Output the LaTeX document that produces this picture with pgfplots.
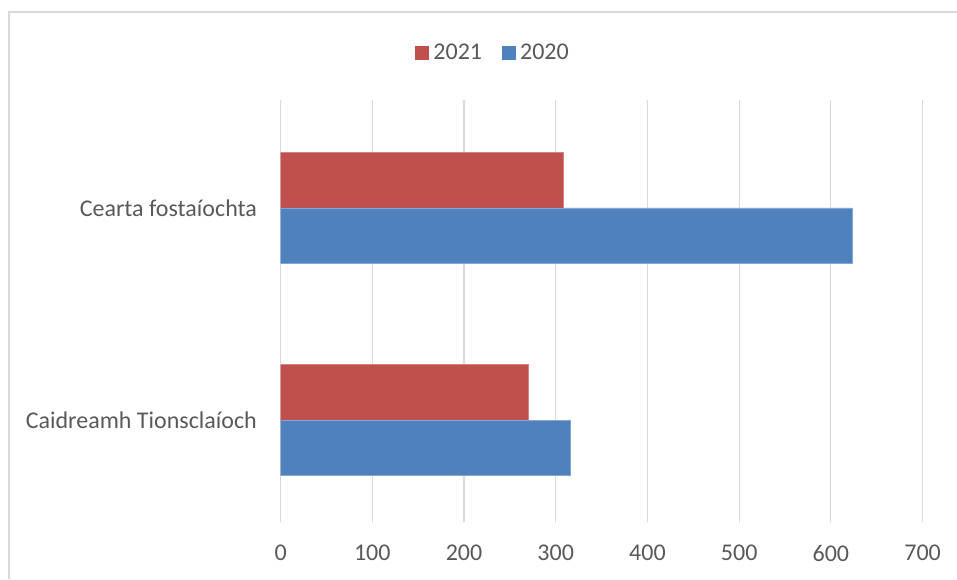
\documentclass[border=0pt]{standalone}
\usepackage{pgfplots}
\usepackage{fontspec}
\setmainfont{Carlito}
\pgfplotsset{compat=1.18}
\definecolor{red21}{HTML}{C0504D}
\definecolor{blue20}{HTML}{4F81BD}
\definecolor{txt}{HTML}{595959}
\definecolor{gridc}{HTML}{D9D9D9}

\begin{document}
\fontsize{24}{28}\selectfont
\begin{tikzpicture}[x=1pt,y=1pt]
	\useasboundingbox (0,0) rectangle (957,579);
	% chart frame (cropped at right and bottom)
	\draw[gridc, line width=1.5pt] (9.2,0) -- (9.2,567.2) -- (957,567.2);
	\begin{axis}[
			at={(280.6pt,57pt)}, anchor=south west,
			scale only axis,
			width=642pt, height=422pt,
			xbar,
			xmin=0, xmax=700,
			ymin=-0.481, ymax=1.509,
			xtick={0,100,...,700},
			ytick={0,1},
			yticklabels={Caidreamh Tionsclaíoch, Cearta fostaíochta},
			major tick length=0pt,
			axis line style={draw=none},
			xmajorgrids=true,
			grid style={gridc, line width=1.1pt},
			/pgf/number format/assume math mode=true,
			tick label style={font=\fontsize{24}{28}\selectfont, text=txt},
			xticklabel style={anchor=center, yshift=-31pt},
			yticklabel style={anchor=east, inner sep=0pt, xshift=-23.5pt},
			bar width=55.5pt,
			legend columns=2,
			legend style={draw=none, at={(0.331,1.111)}, anchor=center,
				font=\fontsize{24}{28}\selectfont, text=txt,
				/tikz/every even column/.append style={column sep=18pt}},
			legend image code/.code={\fill[#1, draw=none] (0pt,-6.8pt) rectangle (13.5pt,6.8pt);
				\path[draw=none, fill=none] (0pt,0pt) -- (16pt,0pt);},
		]
		\addplot[fill=red21, draw=red21!70!white, line width=0.6pt, bar shift=27.75pt]
		coordinates {(270,0) (308,1)};
		\addlegendentry{2021}
		\addplot[fill=blue20, draw=blue20!70!white, line width=0.6pt, bar shift=-27.75pt]
		coordinates {(316,0) (623,1)};
		\addlegendentry{2020}
	\end{axis}
\end{tikzpicture}
\end{document}
